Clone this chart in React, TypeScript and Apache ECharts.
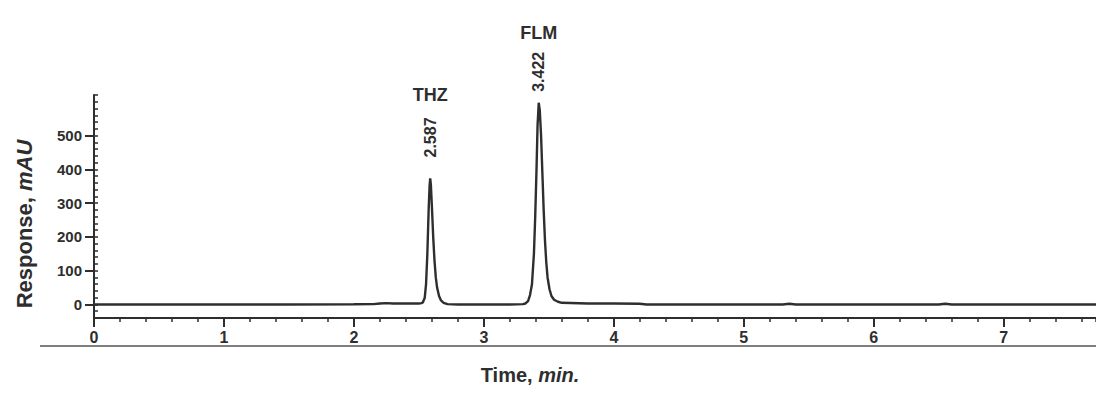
import React, { useEffect, useRef } from "react";
import * as echarts from "echarts";

// Chromatogram data (time in min, response in mAU)
const times = [
  0, 0.5, 1.0, 1.5, 2.0, 2.15, 2.2, 2.25, 2.3, 2.4, 2.5, 2.52,
  2.53, 2.545, 2.555, 2.565, 2.575, 2.582, 2.587, 2.592, 2.6, 2.61, 2.62, 2.63, 2.64, 2.655, 2.67, 2.69, 2.72,
  2.8, 3.0, 3.2, 3.3, 3.32, 3.34, 3.355, 3.37, 3.385, 3.395, 3.405, 3.413, 3.422, 3.43, 3.44, 3.45, 3.46, 3.47,
  3.48, 3.49, 3.505, 3.52, 3.54, 3.57, 3.6, 3.8, 4.0, 4.2, 4.25, 5.0, 5.3, 5.35, 5.4, 6.5, 6.55, 6.6, 7.71,
];
const response = [
  0, 0, 0, 0, 0.5, 1, 3, 4, 3, 3, 3, 4,
  6, 20, 60, 150, 280, 350, 373, 355, 290, 200, 130, 80, 50, 25, 12, 5, 1,
  0, 0, 0, 1, 3, 10, 28, 60, 150, 260, 400, 530, 597, 575, 500, 390, 280, 190,
  125, 80, 45, 25, 14, 8, 5, 3, 3, 2, 0, 0, 0, 2, 0, 0, 2, 0, 0,
];

const peakNames = ["THZ", "FLM"];
const peakTimes = [2.587, 3.422];
const peakHeights = [373, 597];

const yLabelValues = [0, 100, 200, 300, 400, 500];
const xLabelValues = [0, 1, 2, 3, 4, 5, 6, 7];

const X_MIN = 0;
const X_MAX = 7.71;
const Y_MIN = -40;
const Y_MAX = 620;

const FONT = "'Liberation Sans', Arial, sans-serif";
const INK = "#2e2e2e";

export default function App() {
  const ref = useRef<HTMLDivElement>(null);

  useEffect(() => {
    if (!ref.current) return;
    const chart = echarts.init(ref.current, undefined, { renderer: "svg" });

    const seriesData = times.map((t, i) => [t, response[i]]);

    // rotated labels: offset is applied in the label's rotated frame
    const rtOffsets = [41, 31];
    const nameOffsets = [-83, -70];

    const markData: any[] = [];
    peakNames.forEach((name, i) => {
      markData.push({
        coord: [peakTimes[i], peakHeights[i]],
        symbolSize: 0,
        label: {
          show: true,
          position: "inside",
          formatter: peakTimes[i].toFixed(3),
          rotate: 90,
          offset: [rtOffsets[i], 0],
          fontSize: 16,
          fontWeight: "bold",
          color: INK,
          fontFamily: FONT,
        },
      });
      markData.push({
        coord: [peakTimes[i], peakHeights[i]],
        symbolSize: 0,
        label: {
          show: true,
          position: "inside",
          formatter: name,
          offset: [0, nameOffsets[i]],
          fontSize: 18,
          fontWeight: "bold",
          color: INK,
          fontFamily: FONT,
        },
      });
    });

    chart.setOption({
      animation: false,
      backgroundColor: "#ffffff",
      grid: { left: 94, right: 0, top: 95, bottom: 81, containLabel: false },
      xAxis: [
        {
          type: "value",
          min: X_MIN,
          max: X_MAX,
          interval: 1,
          axisLine: { show: true, onZero: false, lineStyle: { color: INK, width: 2 } },
          axisTick: {
            show: true,
            inside: false,
            length: 9,
            customValues: xLabelValues,
            lineStyle: { color: INK, width: 2 },
          },
          axisLabel: {
            customValues: xLabelValues,
            margin: 11,
            fontSize: 16,
            fontWeight: "bold",
            color: INK,
            fontFamily: FONT,
          },
          splitLine: { show: false },
        },
        {
          type: "value",
          min: X_MIN,
          max: X_MAX,
          interval: 0.2,
          position: "bottom",
          axisLine: { show: false, onZero: false },
          axisTick: { show: true, inside: false, length: 4, lineStyle: { color: INK, width: 1.5 } },
          axisLabel: { show: false },
          splitLine: { show: false },
        },
      ],
      yAxis: [
        {
          type: "value",
          min: Y_MIN,
          max: Y_MAX,
          interval: 20,
          axisLine: { show: true, onZero: false, lineStyle: { color: INK, width: 2 } },
          axisTick: {
            show: true,
            inside: false,
            length: 9,
            customValues: yLabelValues,
            lineStyle: { color: INK, width: 2 },
          },
          axisLabel: {
            customValues: yLabelValues,
            margin: 12,
            fontSize: 15,
            fontWeight: "bold",
            color: INK,
            fontFamily: FONT,
          },
          splitLine: { show: false },
        },
        {
          type: "value",
          min: Y_MIN,
          max: Y_MAX,
          interval: 20,
          position: "left",
          axisLine: { show: false, onZero: false },
          axisTick: { show: true, inside: true, length: 4, lineStyle: { color: INK, width: 1.5 } },
          axisLabel: { show: false },
          splitLine: { show: false },
        },
      ],
      series: [
        {
          type: "line",
          xAxisIndex: 0,
          yAxisIndex: 0,
          data: seriesData,
          showSymbol: false,
          symbol: "none",
          lineStyle: { color: INK, width: 2.4 },
          z: 3,
          markPoint: {
            symbol: "circle",
            symbolSize: 0,
            data: markData,
          },
        },
      ],
      graphic: [
        {
          type: "line",
          shape: { x1: 40, y1: 346, x2: 1096, y2: 346 },
          style: { stroke: "#555", lineWidth: 1.5 },
        },
        {
          type: "text",
          x: 530,
          y: 375,
          style: {
            text: "{a|Time, }{b|min.}",
            align: "center",
            verticalAlign: "middle",
            rich: {
              a: { fontSize: 20, fontWeight: "bold", fill: INK, fontFamily: FONT },
              b: { fontSize: 20, fontWeight: "bold", fontStyle: "italic", fill: INK, fontFamily: FONT },
            },
          },
        },
        {
          type: "text",
          x: 24,
          y: 224,
          rotation: Math.PI / 2,
          style: {
            text: "{a|Response, }{b|mAU}",
            align: "center",
            verticalAlign: "middle",
            rich: {
              a: { fontSize: 22, fontWeight: "bold", fill: INK, fontFamily: FONT },
              b: { fontSize: 22, fontWeight: "bold", fontStyle: "italic", fill: INK, fontFamily: FONT },
            },
          },
        },
      ],
    });

    return () => {
      chart.dispose();
    };
  }, []);

  return (
    <div
      ref={ref}
      style={{ position: "fixed", left: 0, top: 0, width: 1096, height: 399, background: "#fff" }}
    />
  );
}
